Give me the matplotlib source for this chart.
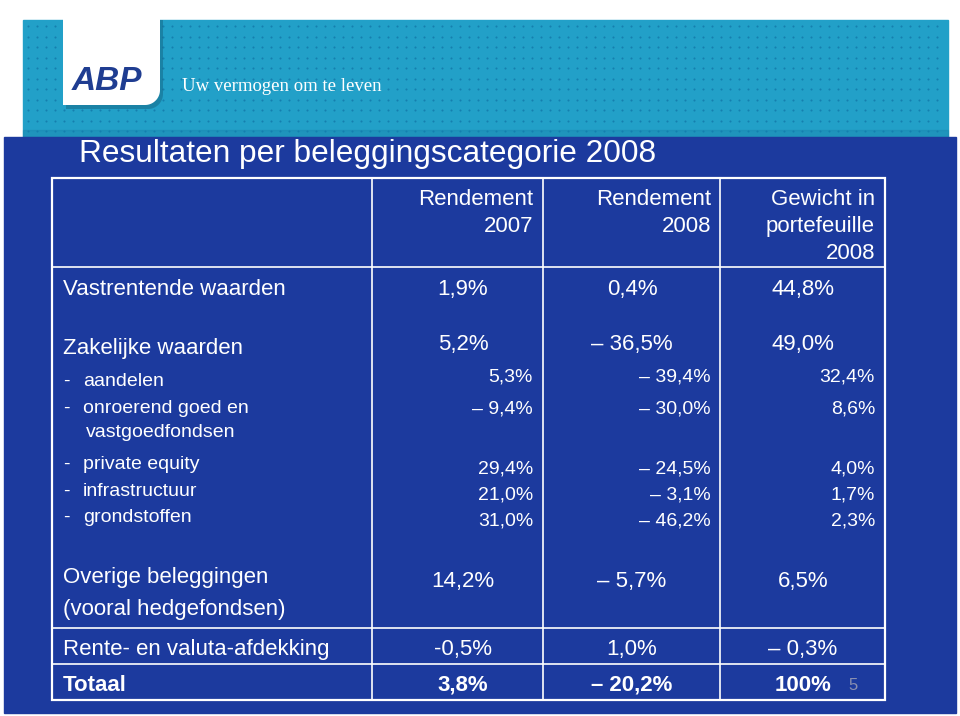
import numpy as np
import matplotlib.pyplot as plt
from matplotlib.patches import Rectangle, Polygon

plt.rcParams['font.family'] = ['Liberation Sans', 'DejaVu Sans']

# slide texts
title = "Resultaten per beleggingscategorie 2008"
tagline = "Uw vermogen om te leven"
logo = "ABP"
page = "5"
headers = ["Rendement\n2007", "Rendement\n2008", "Gewicht in\nportefeuille\n2008"]

# main rows
main_labels = ["Vastrentende waarden", "Zakelijke waarden",
               "Overige beleggingen\n(vooral hedgefondsen)",
               "Rente- en valuta-afdekking", "Totaal"]
rend_2007 = ["1,9%", "5,2%", "14,2%", "-0,5%", "3,8%"]
rend_2008 = ["0,4%", "\u2013 36,5%", "\u2013 5,7%", "1,0%", "\u2013 20,2%"]
gewicht = ["44,8%", "49,0%", "6,5%", "\u2013 0,3%", "100%"]

# sub rows of Zakelijke waarden
sub_labels = ["aandelen", "onroerend goed en\nvastgoedfondsen", "private equity",
              "infrastructuur", "grondstoffen"]
sub_2007 = ["5,3%", "\u2013 9,4%", "29,4%", "21,0%", "31,0%"]
sub_2008 = ["\u2013 39,4%", "\u2013 30,0%", "\u2013 24,5%", "\u2013 3,1%", "\u2013 46,2%"]
sub_gewicht = ["32,4%", "8,6%", "4,0%", "1,7%", "2,3%"]

BLUE = '#1c3a9e'
TEAL = '#22a0c8'

fig = plt.figure(figsize=(9.6, 7.16), dpi=100)
ax = fig.add_axes([0, 0, 1, 1])
ax.set_xlim(0, 960)
ax.set_ylim(716, 0)
ax.axis('off')

# banner with dot pattern
ax.add_patch(Rectangle((23, 20), 925, 117, color=TEAL, zorder=1))
ax.add_patch(Rectangle((23, 130), 925, 7, color='#1a7fa6', alpha=0.35, zorder=1))
gx, gy = np.meshgrid(np.arange(28, 946, 9), np.arange(26, 132, 10.5))
ax.scatter(gx.ravel(), gy.ravel(), s=2.2, color='#157fae', lw=0, zorder=2)

# logo card with rounded corner
th = np.linspace(0, np.pi / 2, 20)
card = np.vstack([[[63, 0], [160, 0]],
                  np.column_stack([145 + 15 * np.cos(th), 90 + 15 * np.sin(th)]),
                  [[63, 105]]])
shadow = card + [3, 4]
shadow[:2, 1] = 20
ax.add_patch(Polygon(shadow, closed=True, color='#0d4a66', alpha=0.35, lw=0, zorder=3))
ax.add_patch(Polygon(card, closed=True, color='white', lw=0, zorder=4))
ax.text(72, 90, logo, fontsize=24, fontweight='heavy', style='italic', color='#1f3d91',
        va='baseline', ha='left', zorder=5)
ax.text(182, 91, tagline, fontsize=13.5, family=['Liberation Serif', 'DejaVu Serif'],
        color='white', va='baseline', ha='left', zorder=5)

# slide panel
ax.add_patch(Rectangle((4, 137), 952, 576, color=BLUE, zorder=6))
ax.text(79, 162, title, fontsize=22.8, color='white', va='baseline', ha='left', zorder=8)

# table grid
L, R, T, B = 52, 885, 178, 700
for x in [372, 543, 720]:
    ax.plot([x, x], [T, B], color='white', lw=1.2, zorder=7)
for y in [267, 628, 664]:
    ax.plot([L, R], [y, y], color='white', lw=1.2, zorder=7)
ax.add_patch(Rectangle((L, T), R - L, B - T, fill=False, ec='white', lw=1.6, zorder=7))

kw = dict(color='white', va='baseline', zorder=8)

# headers, right aligned
col_right = [533, 711, 875]
for h, xr in zip(headers, col_right):
    for i, line in enumerate(h.split('\n')):
        ax.text(xr, 205 + 27 * i, line, fontsize=16, ha='right', **kw)

# main rows
col_center = [463, 632, 803]
label_y = [295, 354, 583, 655, 691]
value_y = [295, 350, 587, 655, 691]
for i, lab in enumerate(main_labels):
    weight = 'bold' if lab == "Totaal" else 'normal'
    for j, line in enumerate(lab.split('\n')):
        ax.text(63, label_y[i] + 32 * j, line, fontsize=16, ha='left', fontweight=weight, **kw)
    for xc, col in zip(col_center, [rend_2007, rend_2008, gewicht]):
        ax.text(xc, value_y[i], col[i], fontsize=16, ha='center', fontweight=weight, **kw)

# sub rows
sub_label_y = [386, 413, 469, 496, 522]
sub_value_y = [382, 414, 473, 499, 525]
for i, lab in enumerate(sub_labels):
    ax.text(63, sub_label_y[i], "-", fontsize=14, ha='left', **kw)
    for j, line in enumerate(lab.split('\n')):
        ax.text(83 + 3 * j, sub_label_y[i] + 24 * j, line, fontsize=14, ha='left', **kw)
    for xr, col in zip(col_right, [sub_2007, sub_2008, sub_gewicht]):
        ax.text(xr, sub_value_y[i], col[i], fontsize=14, ha='right', **kw)

ax.text(848, 690, page, fontsize=12, color='#8a90b0', va='baseline', ha='left', zorder=8)

fig.savefig('out.png', dpi=100, facecolor='white')
